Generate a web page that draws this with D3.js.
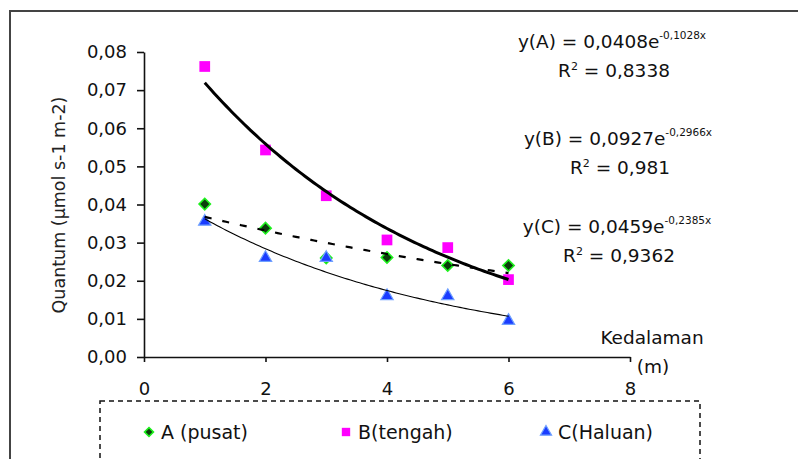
<!DOCTYPE html>
<html lang="id">
<head>
  <meta charset="UTF-8" />
  <title>Quantum vs Kedalaman</title>
  <script src="https://d3js.org/d3.v7.min.js"></script>
  <style>
    body { margin: 0; background: white; }
    svg text { font-family: "DejaVu Sans", sans-serif; fill: #111; }
  </style>
</head>
<body>
  <div id="chart"></div>
  <script>
  // data
  var depth   = [1, 2, 3, 4, 5, 6];
  var seriesA = [0.0401, 0.0338, 0.0260, 0.0261, 0.0240, 0.0240]; // A (pusat)
  var seriesB = [0.0762, 0.0543, 0.0423, 0.0307, 0.0287, 0.0203]; // B(tengah)
  var seriesC = [0.0355, 0.0260, 0.0260, 0.0160, 0.0160, 0.0095]; // C(Haluan)
  var seriesNames = ["A (pusat)", "B(tengah)", "C(Haluan)"];
  var xTicks = [0, 2, 4, 6, 8];
  var yTicks = [0, 0.01, 0.02, 0.03, 0.04, 0.05, 0.06, 0.07, 0.08];
  var eqMain = ["y(A) = 0,0408e", "y(B) = 0,0927e", "y(C) = 0,0459e"];
  var eqExp  = ["-0,1028x", "-0,2966x", "-0,2385x"];
  var rSquared = ["0,8338", "0,981", "0,9362"];

  var W = 798, H = 459;
  var svg = d3.select("#chart").append("svg")
      .attr("width", W).attr("height", H);

  // outer frame (only top + left visible)
  svg.append("path")
    .attr("d", "M10," + H + "V11H" + W)
    .attr("fill", "none").attr("stroke", "#444").attr("stroke-width", 2);

  var x = d3.scaleLinear().domain([0, 8]).range([144, 630]);
  var y = d3.scaleLinear().domain([0, 0.08]).range([357, 52]);
  var comma = function(f) { return function(d) { return d3.format(f)(d).replace(".", ","); }; };

  // axes
  var gx = svg.append("g")
    .attr("transform", "translate(0," + y(0) + ")")
    .call(d3.axisBottom(x).tickValues(xTicks).tickSize(5).tickSizeOuter(0).tickPadding(20).tickFormat(d3.format("d")));
  var gy = svg.append("g")
    .attr("transform", "translate(" + x(0) + ",0)")
    .call(d3.axisLeft(y).tickValues(yTicks).tickSize(7).tickSizeOuter(0).tickPadding(10).tickFormat(comma(".2f")));
  [gx, gy].forEach(function(g) {
    g.selectAll("path, line").attr("stroke", "#111").attr("stroke-width", 1.6);
    g.selectAll("text").style("font-size", "18px").attr("fill", "#111");
  });

  // y title
  svg.append("text")
    .attr("transform", "translate(65," + 205 + ") rotate(-90)")
    .attr("text-anchor", "middle")
    .style("font-size", "17.5px")
    .style("fill", "#222")
    .text("Quantum (µmol s-1 m-2)");

  // x title
  svg.append("text").attr("x", 652).attr("y", 344).attr("text-anchor", "middle")
    .style("font-size", "18.5px").text("Kedalaman");
  svg.append("text").attr("x", 653).attr("y", 373).attr("text-anchor", "middle")
    .style("font-size", "18.5px").text("(m)");

  // exponential trend lines, least squares on ln(y)
  function expFit(xs, ys) {
    var n = xs.length, lx = d3.mean(xs), ly = d3.mean(ys, function(v) { return Math.log(v); });
    var sxy = 0, sxx = 0;
    for (var i = 0; i < n; i++) {
      sxy += (xs[i] - lx) * (Math.log(ys[i]) - ly);
      sxx += (xs[i] - lx) * (xs[i] - lx);
    }
    var b = sxy / sxx, a = Math.exp(ly - b * lx);
    return function(v) { return a * Math.exp(b * v); };
  }

  var series = [seriesA, seriesB, seriesC];
  var trendStyle = [
    {w: 2.2, dash: "7,11"},
    {w: 3,   dash: null},
    {w: 1.1, dash: null}
  ];

  // markers
  var markerSpec = [
    {type: d3.symbolSquare, size: 64, rot: 45, fill: "#0b3d0b", stroke: "#1ef01e", sw: 1.6},
    {type: d3.symbolSquare, size: 115, rot: 0, fill: "#ff00ff", stroke: "none", sw: 0},
    {type: d3.symbolTriangle, size: 66, rot: 0, fill: "#1a3cff", stroke: "#6fa0ff", sw: 1.2}
  ];

  series.forEach(function(s, k) {
    var m = markerSpec[k];
    svg.append("g").selectAll("path")
      .data(s).enter().append("path")
      .attr("d", d3.symbol().type(m.type).size(m.size))
      .attr("transform", function(d, i) { return "translate(" + x(depth[i]) + "," + y(d) + ") rotate(" + m.rot + ")"; })
      .attr("fill", m.fill).attr("stroke", m.stroke).attr("stroke-width", m.sw);
  });

  series.forEach(function(s, k) {
    var f = expFit(depth, s);
    var pts = d3.range(1, 6.001, 0.05);
    svg.append("path")
      .datum(pts)
      .attr("d", d3.line().x(function(v) { return x(v); }).y(function(v) { return y(f(v)); }))
      .attr("fill", "none").attr("stroke", "#000")
      .attr("stroke-width", trendStyle[k].w)
      .attr("stroke-dasharray", trendStyle[k].dash);
  });

  // equations
  var eqY = [48, 145, 233];
  var eqX = [612, 618, 617];
  eqMain.forEach(function(t, k) {
    var t1 = svg.append("text").attr("x", eqX[k]).attr("y", eqY[k]).attr("text-anchor", "middle")
      .style("font-size", "18.5px");
    t1.append("tspan").text(t);
    t1.append("tspan").attr("dy", -9).style("font-size", "10.5px").text(eqExp[k]);

    var t2 = svg.append("text").attr("x", eqX[k] + 2).attr("y", eqY[k] + 29).attr("text-anchor", "middle")
      .style("font-size", "18.5px");
    t2.append("tspan").text("R");
    t2.append("tspan").attr("dy", -7).style("font-size", "11px").text("2");
    t2.append("tspan").attr("dy", 7).text(" = " + rSquared[k]);
  });

  // legend box
  svg.append("rect")
    .attr("x", 100).attr("y", 401).attr("width", 600).attr("height", 90)
    .attr("fill", "none").attr("stroke", "#111").attr("stroke-width", 1.5)
    .attr("stroke-dasharray", "5,4");

  var legX = [149, 346, 546];
  var legSize = [40, 70, 54];
  seriesNames.forEach(function(name, k) {
    var m = markerSpec[k];
    svg.append("path")
      .attr("d", d3.symbol().type(m.type).size(legSize[k]))
      .attr("transform", "translate(" + legX[k] + ",432) rotate(" + m.rot + ")")
      .attr("fill", m.fill).attr("stroke", m.stroke).attr("stroke-width", m.sw);
    svg.append("text").attr("x", legX[k] + 12).attr("y", 439)
      .style("font-size", "19px").text(name);
  });
  </script>
</body>
</html>
